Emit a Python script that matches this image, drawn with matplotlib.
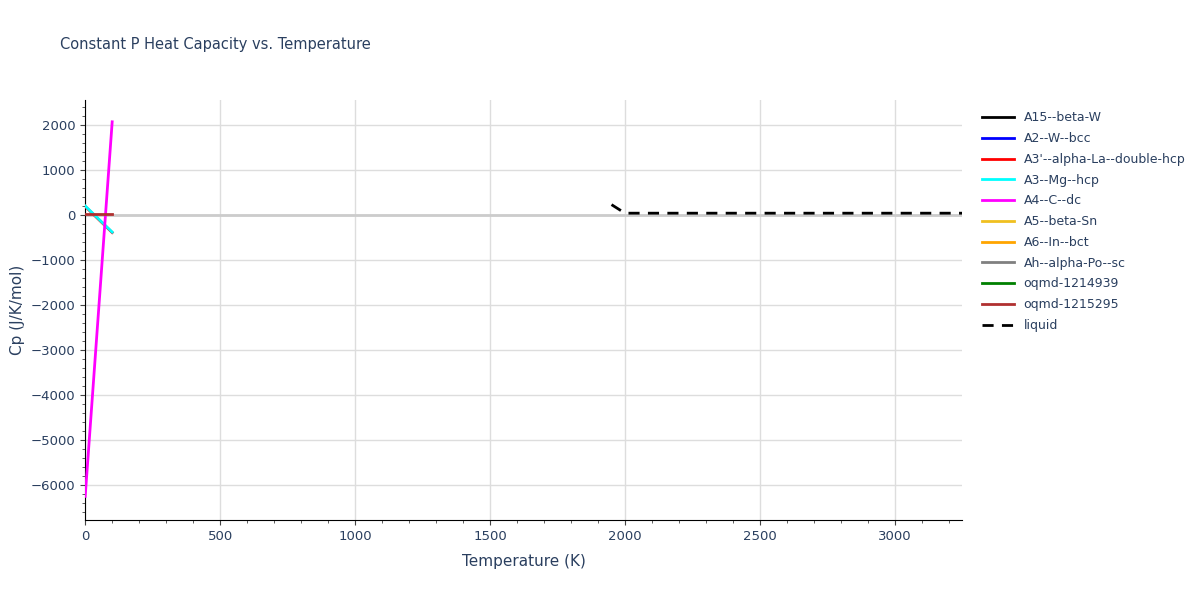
import matplotlib
matplotlib.use("Agg")
import matplotlib.pyplot as plt
from matplotlib.ticker import MultipleLocator

names = ["A15--beta-W", "A2--W--bcc", "A3'--alpha-La--double-hcp", "A3--Mg--hcp",
         "A4--C--dc", "A5--beta-Sn", "A6--In--bct", "Ah--alpha-Po--sc",
         "oqmd-1214939", "oqmd-1215295", "liquid"]
colors = ["black", "blue", "red", "cyan", "magenta", "#f0c020", "orange", "gray",
          "green", "#b03030", "black"]
xs = [[], [], [0, 100], [0, 100], [0, 100], [], [], [], [], [0, 100],
      [1950, 2000, 3250]]
ys = [[], [], [190, -390], [200, -380], [-6250, 2070], [], [], [], [], [30, 30],
      [230, 40, 40]]

fig = plt.figure(figsize=(12, 6), dpi=100)
ax = fig.add_axes([0.071, 0.133, 0.731, 0.7])
for n, c, x, y in zip(names, colors, xs, ys):
    ls = (0, (4, 3)) if n == "liquid" else "-"
    z = 5 if n == "oqmd-1215295" else 3
    ax.plot(x, y, color=c, lw=2, ls=ls, label=n, zorder=z)
ax.axhline(0, color="#cccccc", lw=2, zorder=1)
ax.set_xlim(0, 3250)
ax.set_ylim(-6780, 2550)
ax.xaxis.set_major_locator(MultipleLocator(500))
ax.xaxis.set_minor_locator(MultipleLocator(100))
ax.yaxis.set_major_locator(MultipleLocator(1000))
ax.yaxis.set_minor_locator(MultipleLocator(200))
ax.grid(True, color="#dddddd", lw=1)
ax.set_axisbelow(True)
for s in ["top", "right"]:
    ax.spines[s].set_visible(False)
tc = "#2a3f5f"
ax.tick_params(colors=tc, labelsize=9.5)
ax.tick_params(which="both", color="#444444")
ax.set_xlabel("Temperature (K)", color=tc, fontsize=11, labelpad=8)
ax.set_ylabel("Cp (J/K/mol)", color=tc, fontsize=11)
fig.text(0.05, 0.918, "Constant P Heat Capacity vs. Temperature", color=tc, fontsize=10.5)
ax.legend(loc="upper left", bbox_to_anchor=(1.01, 1.0), frameon=False,
          labelcolor=tc, fontsize=9, handlelength=2.5, labelspacing=0.62)
fig.savefig("out.png")
